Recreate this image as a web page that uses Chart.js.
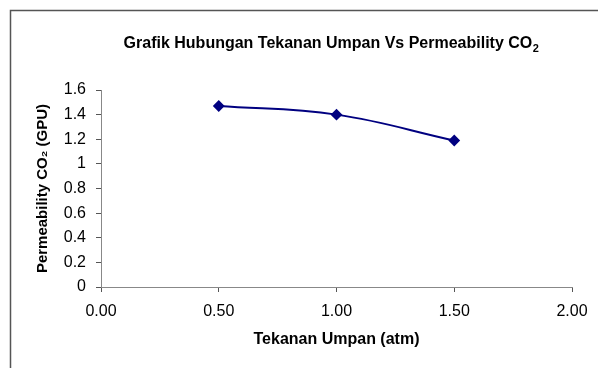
<!DOCTYPE html>
<html><head><meta charset="utf-8">
<script src="https://cdn.jsdelivr.net/npm/chart.js@4"></script>
<style>html,body{margin:0;padding:0;background:#fff}#wrap{width:598px;height:368px}</style>
</head><body><div id="wrap"><canvas id="c" width="598" height="368"></canvas></div>
<script>
const pressures = [0.5, 1.0, 1.5];
const permeability = [1.47, 1.40, 1.19];
const titleMain = 'Grafik Hubungan Tekanan Umpan Vs Permeability CO';
const titleSub = '2';
const xTitle = 'Tekanan Umpan (atm)';
const yTitle = 'Permeability CO\u2082 (GPU)';
const FONT = '"Liberation Sans", Arial, sans-serif';

const framePlugin = {
  id: 'frame',
  beforeDraw(chart) {
    const ctx = chart.ctx;
    ctx.save();
    ctx.fillStyle = '#fff';
    ctx.fillRect(0, 0, chart.width, chart.height);
    ctx.strokeStyle = '#555';
    ctx.lineWidth = 1.5;
    ctx.beginPath();
    ctx.moveTo(10.5, chart.height);
    ctx.lineTo(10.5, 10.5);
    ctx.lineTo(chart.width, 10.5);
    ctx.stroke();
    ctx.restore();
  },
  afterDraw(chart) {
    const ctx = chart.ctx;
    ctx.save();
    ctx.fillStyle = '#000';
    ctx.textBaseline = 'alphabetic';
    ctx.font = 'bold 16px ' + FONT;
    const w1 = ctx.measureText(titleMain).width;
    ctx.font = 'bold 11px ' + FONT;
    const w2 = ctx.measureText(titleSub).width;
    const x0 = 331 - (w1 + w2) / 2;
    const base = 48;
    ctx.font = 'bold 16px ' + FONT;
    ctx.textAlign = 'left';
    ctx.fillText(titleMain, x0, base);
    ctx.font = 'bold 11px ' + FONT;
    ctx.fillText(titleSub, x0 + w1 + 0.5, base + 4);
    ctx.restore();
  }
};

new Chart(document.getElementById('c'), {
  type: 'line',
  data: {
    datasets: [{
      data: pressures.map((x, i) => ({x, y: permeability[i]})),
      borderColor: '#000080',
      backgroundColor: '#000080',
      borderWidth: 2,
      pointStyle: 'rectRot',
      pointRadius: 4.5,
      pointHoverRadius: 4.5,
      tension: 0.4,
      fill: false
    }]
  },
  options: {
    responsive: false,
    animation: false,
    events: [],
    layout: {padding: {left: 0, right: 26, top: 90, bottom: 0}},
    plugins: {
      legend: {display: false},
      tooltip: {enabled: false},
      title: {display: false}
    },
    scales: {
      x: {
        type: 'linear',
        min: 0, max: 2,
        afterFit(s) { s.height = 81; },
        ticks: {
          stepSize: 0.5,
          color: '#000',
          padding: 10,
          maxRotation: 0,
          font: {family: FONT, size: 16},
          callback: v => Number(v).toFixed(2)
        },
        grid: {drawOnChartArea: false, drawTicks: true, tickLength: 5, color: '#555'},
        border: {color: '#888', width: 1},
        title: {
          display: true, text: xTitle, color: '#000',
          font: {family: FONT, size: 16, weight: 'bold', lineHeight: 1.2},
          padding: {top: 0, bottom: 18.4}
        }
      },
      y: {
        min: 0, max: 1.6,
        afterFit(s) { s.width = 101; },
        ticks: {
          stepSize: 0.2,
          color: '#000',
          padding: 10,
          font: {family: FONT, size: 16},
          callback: v => String(Math.round(v * 10) / 10)
        },
        grid: {drawOnChartArea: false, drawTicks: true, tickLength: 5, color: '#555'},
        border: {color: '#888', width: 1},
        title: {
          display: true, text: yTitle, color: '#000',
          font: {family: FONT, size: 15, weight: 'bold', lineHeight: 1.2},
          padding: {top: 34, bottom: 0}
        }
      }
    }
  },
  plugins: [framePlugin]
});
</script>
</body></html>
